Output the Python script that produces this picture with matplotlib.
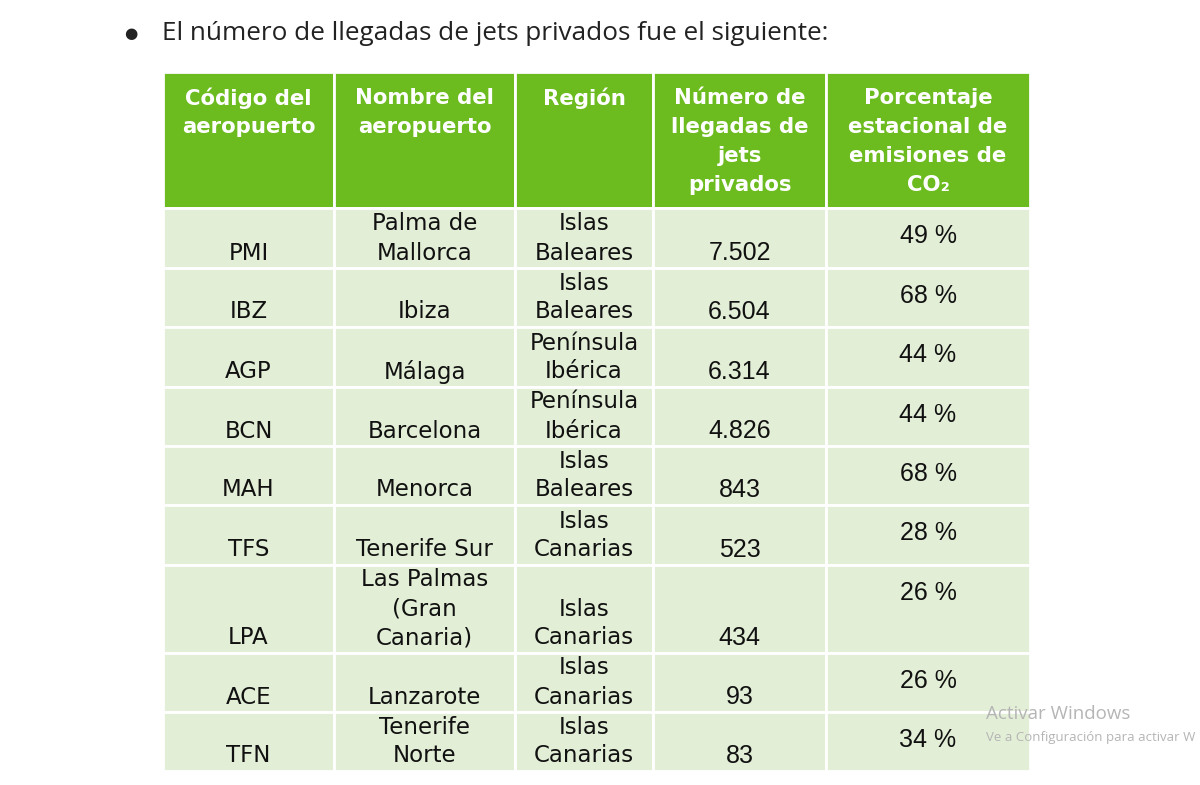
import matplotlib.pyplot as plt
from matplotlib.patches import Rectangle

# table content
headers = ["Código del\naeropuerto", "Nombre del\naeropuerto", "Región",
           "Número de\nllegadas de\njets\nprivados",
           "Porcentaje\nestacional de\nemisiones de\nCO₂"]
codes = ["PMI", "IBZ", "AGP", "BCN", "MAH", "TFS", "LPA", "ACE", "TFN"]
names = ["Palma de\nMallorca", "Ibiza", "Málaga", "Barcelona", "Menorca",
         "Tenerife Sur", "Las Palmas\n(Gran\nCanaria)", "Lanzarote", "Tenerife\nNorte"]
regions = ["Islas\nBaleares", "Islas\nBaleares", "Península\nIbérica", "Península\nIbérica",
           "Islas\nBaleares", "Islas\nCanarias", "Islas\nCanarias", "Islas\nCanarias",
           "Islas\nCanarias"]
arrivals = ["7.502", "6.504", "6.314", "4.826", "843", "523", "434", "93", "83"]
co2_pct = [49, 68, 44, 44, 68, 28, 26, 26, 34]

# layout in pixels
col_edges = [163, 334, 515, 653, 826, 1030]
row_edges = [72, 208, 268, 327, 387, 446, 505, 565, 653, 712, 771]
line_h = 29

HEAD_GREEN = "#6cbb1f"
CELL_GREEN = "#e2eed6"

fig = plt.figure(figsize=(12, 7.85), dpi=100)
ax = fig.add_axes([0, 0, 1, 1])
ax.set_xlim(0, 1200)
ax.set_ylim(785, 0)
ax.axis("off")

# heading line
ax.text(131, 33, "●", fontsize=11, ha="center", va="center", color="#222222")
ax.text(162, 33, "El número de llegadas de jets privados fue el siguiente:",
        fontsize=18.8, family="Open Sans", ha="left", va="center", color="#222222")

body = list(zip(codes, names, regions, arrivals, [f"{p} %" for p in co2_pct]))

for c in range(5):
    x0, x1 = col_edges[c], col_edges[c + 1]
    xc = (x0 + x1) / 2
    # header cell
    y0, y1 = row_edges[0], row_edges[1]
    ax.add_patch(Rectangle((x0, y0), x1 - x0, y1 - y0, facecolor=HEAD_GREEN,
                           edgecolor="white", linewidth=2))
    for k, line in enumerate(headers[c].split("\n")):
        ax.text(xc, y0 + 26 + k * line_h, line, fontsize=15.3, fontweight="bold",
                family="DejaVu Sans", color="white", ha="center", va="center")
    # body cells
    for r, row in enumerate(body):
        y0, y1 = row_edges[r + 1], row_edges[r + 2]
        ax.add_patch(Rectangle((x0, y0), x1 - x0, y1 - y0, facecolor=CELL_GREEN,
                               edgecolor="white", linewidth=2))
        lines = row[c].split("\n")
        if c == 4:
            ax.text(xc, y0 + 28, lines[0], fontsize=18, family="Liberation Sans",
                    color="#111111", ha="center", va="center")
        else:
            if c == 3:
                fam, fs = "Liberation Sans", 18
            else:
                fam, fs = "DejaVu Sans", 16.5
            n = len(lines)
            for k, line in enumerate(lines):
                yy = y1 - 15 - (n - 1 - k) * line_h
                ax.text(xc, yy, line, fontsize=fs, family=fam,
                        color="#111111", ha="center", va="center")

# watermark
ax.text(986, 714, "Activar Windows", fontsize=13.5, family="Open Sans",
        color="#b5b5b5", ha="left", va="center")
ax.text(986, 737, "Ve a Configuración para activar W", fontsize=9.5,
        family="Open Sans", color="#b5b5b5", ha="left", va="center")

fig.savefig("out.png", dpi=100)
